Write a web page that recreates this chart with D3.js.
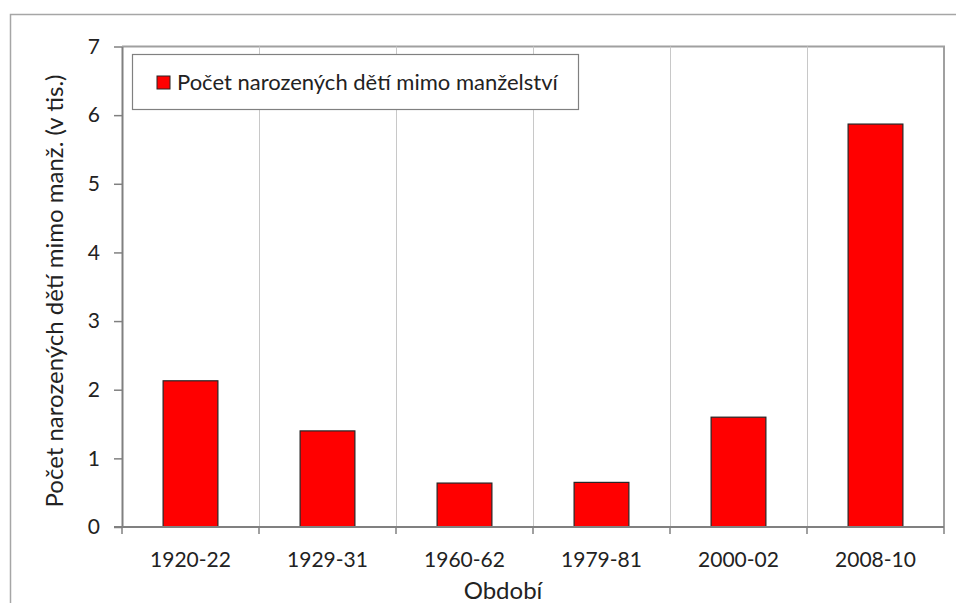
<!DOCTYPE html>
<html lang="cs">
<head>
<meta charset="UTF-8">
<title>Počet narozených dětí mimo manželství</title>
<script src="https://d3js.org/d3.v7.min.js"></script>
<style>
    body { margin: 0; background: #fff; }
    svg { display: block; font-family: Lato, "Open Sans", sans-serif; }
</style>
</head>
<body>
<svg width="956" height="603"></svg>
<script>
    const periods = ["1920-22", "1929-31", "1960-62", "1979-81", "2000-02", "2008-10"];
    const births = [2.13, 1.40, 0.64, 0.65, 1.60, 5.87];
    const yTicks = [0, 1, 2, 3, 4, 5, 6, 7];
    const seriesName = "Počet narozených dětí mimo manželství";
    const yTitle = "Počet narozených dětí mimo manž. (v tis.)";
    const xTitle = "Období";

    const svg = d3.select("svg");
    const plotL = 122, plotR = 944, plotT = 46.5, plotB = 527;

    // outer chart frame (runs off right and bottom edge)
    svg.append("rect")
        .attr("x", 10.5).attr("y", 14.5)
        .attr("width", 1000).attr("height", 700)
        .attr("fill", "none").attr("stroke", "#a6a6a6").attr("stroke-width", 1.5);

    const x = d3.scaleBand().domain(periods).range([plotL, plotR]).paddingInner(0).paddingOuter(0);
    const y = d3.scaleLinear().domain([0, 7]).range([plotB, plotT]);

    // plot area border (top + right)
    svg.append("path")
        .attr("d", `M${plotL},${plotT}H${plotR}V${plotB}`)
        .attr("fill", "none").attr("stroke", "#a0a0a0").attr("stroke-width", 2);

    // vertical gridlines at category boundaries
    svg.append("g").selectAll("line")
        .data(periods.slice(1))
        .join("line")
        .attr("x1", d => x(d) + 0.5).attr("x2", d => x(d) + 0.5)
        .attr("y1", plotT).attr("y2", plotB)
        .attr("stroke", "#c8c8c8").attr("stroke-width", 1);

    // bars
    const bw = x.bandwidth() * 0.4;
    svg.append("g").selectAll("rect")
        .data(births)
        .join("rect")
        .attr("x", (d, i) => x(periods[i]) + (x.bandwidth() - bw) / 2)
        .attr("y", d => y(d))
        .attr("width", bw)
        .attr("height", d => y(0) - y(d))
        .attr("fill", "#ff0000")
        .attr("stroke", "#262626").attr("stroke-width", 1.2);

    // y axis
    const yAxis = svg.append("g")
        .attr("transform", `translate(${plotL},0)`)
        .call(d3.axisLeft(y).tickValues(yTicks).tickFormat(d3.format("d"))
            .tickSize(8).tickSizeOuter(0).tickPadding(14));
    yAxis.select(".domain").attr("stroke", "#808080").attr("stroke-width", 2);
    yAxis.selectAll(".tick line").attr("stroke", "#808080").attr("stroke-width", 1.5);
    yAxis.selectAll(".tick text").attr("font-size", 21).attr("fill", "#222").attr("font-family", "Lato");

    // x axis: ticks at category boundaries
    const xAxis = svg.append("g").attr("transform", `translate(0,${plotB})`);
    xAxis.append("line")
        .attr("x1", plotL - 8).attr("x2", plotR)
        .attr("stroke", "#808080").attr("stroke-width", 2);
    const bounds = periods.map(p => x(p)).concat([plotR]);
    xAxis.selectAll("line.tk")
        .data(bounds)
        .join("line")
        .attr("class", "tk")
        .attr("x1", d => d).attr("x2", d => d)
        .attr("y1", 0).attr("y2", 7)
        .attr("stroke", "#808080").attr("stroke-width", 1.5);
    xAxis.selectAll("text")
        .data(periods)
        .join("text")
        .attr("x", d => x(d) + x.bandwidth() / 2)
        .attr("y", 40)
        .attr("text-anchor", "middle")
        .attr("font-size", 21).attr("fill", "#222")
        .text(d => d);

    // axis titles
    svg.append("text")
        .attr("transform", `translate(63,291) rotate(-90)`)
        .attr("text-anchor", "middle")
        .attr("font-size", 24).attr("fill", "#222")
        .text(yTitle);
    svg.append("text")
        .attr("x", 503).attr("y", 599)
        .attr("text-anchor", "middle")
        .attr("font-size", 24).attr("fill", "#222")
        .text(xTitle);

    // legend
    const lg = svg.append("g");
    lg.append("rect")
        .attr("x", 132.5).attr("y", 54.5).attr("width", 446).attr("height", 55)
        .attr("fill", "#fff").attr("stroke", "#808080").attr("stroke-width", 1.2);
    lg.append("rect")
        .attr("x", 157).attr("y", 76).attr("width", 13).attr("height", 13)
        .attr("fill", "#ff0000").attr("stroke", "#262626").attr("stroke-width", 1);
    lg.append("text")
        .attr("x", 177).attr("y", 90)
        .attr("font-size", 22).attr("fill", "#222")
        .text(seriesName);
</script>
</body>
</html>
